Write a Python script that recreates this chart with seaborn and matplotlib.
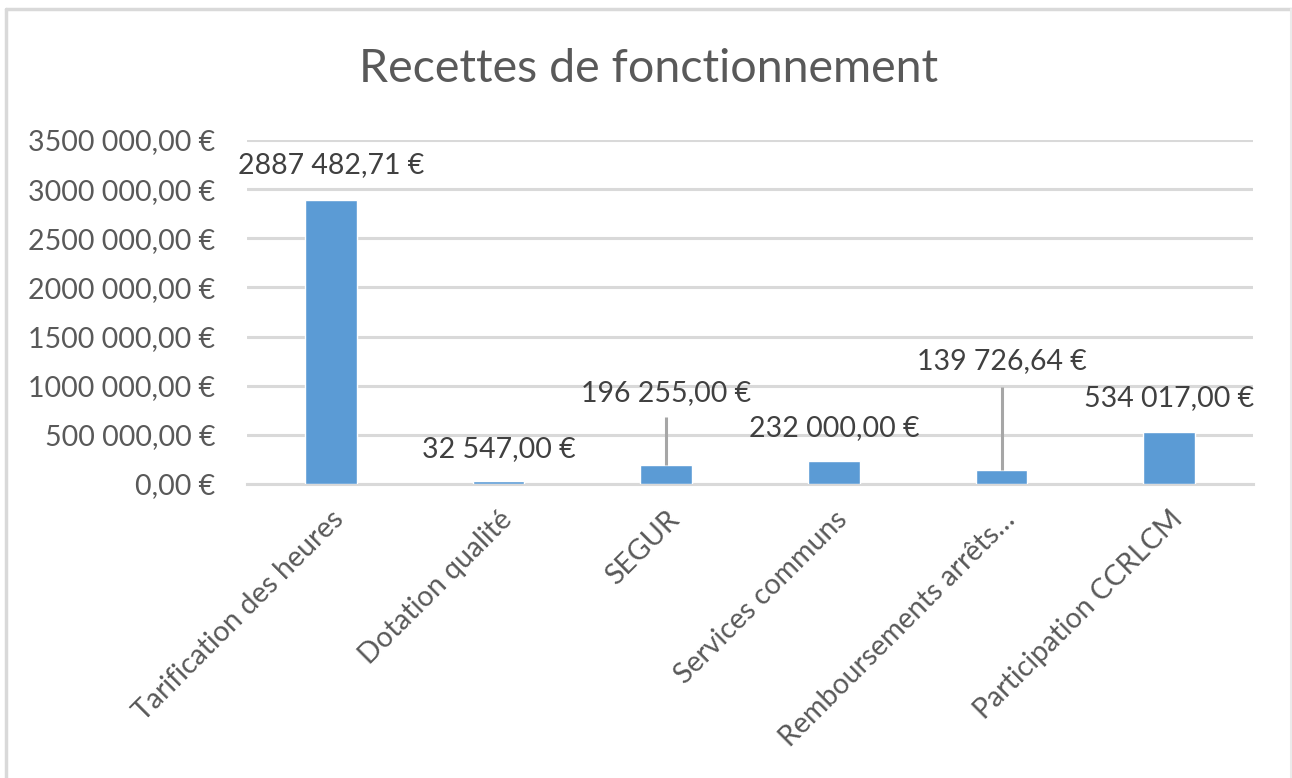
import matplotlib
matplotlib.use("Agg")
import matplotlib.pyplot as plt
from matplotlib.lines import Line2D
from matplotlib.ticker import FuncFormatter, MultipleLocator
import seaborn as sns
import pandas as pd

# Budget lines and amounts (EUR)
categories = [
    "Tarification des heures",
    "Dotation qualité",
    "SEGUR",
    "Services communs",
    "Remboursements arrêts…",
    "Participation CCRLCM",
]
amounts = [2887482.71, 32547.00, 196255.00, 232000.00, 139726.64, 534017.00]

# Vertical placement of each value label (EUR units) and leader-line flags
label_y = [3245000, 360000, 930000, 570000, 1250000, 875000]
leader = [False, False, True, False, True, False]
leader_top = [None, None, 680000, None, 985000, None]

BAR = "#5B9BD5"
TEXT = "#595959"
GRID = "#D9D9D9"
FS = 20.5


def euro(v):
    """Format like '3500 000,00 €' (single thousands separator)."""
    s = f"{v:.2f}"
    whole, dec = s.split(".")
    if len(whole) > 3:
        whole = whole[:-3] + " " + whole[-3:]
    return f"{whole},{dec} €"


sns.set_theme(style="white")
plt.rcParams["font.family"] = ["Lato", "DejaVu Sans"]

W, H = 1292, 778
fig = plt.figure(figsize=(W / 100, H / 100), dpi=100)
ax = fig.add_axes([247 / W, 1 - 484 / H, (1253 - 247) / W, (484 - 140) / H])

df = pd.DataFrame({"cat": categories, "amount": amounts})
sns.barplot(data=df, x="cat", y="amount", color=BAR, saturation=1,
            width=0.31, ax=ax, zorder=3)

ax.set_xlim(-0.5, len(categories) - 0.5)
ax.set_ylim(0, 3500000)
ax.yaxis.set_major_locator(MultipleLocator(500000))
ax.yaxis.set_major_formatter(FuncFormatter(lambda v, p: euro(v)))
ax.grid(axis="y", color=GRID, linewidth=2.2, zorder=0)
ax.set_axisbelow(True)
for side in ["left", "right", "top"]:
    ax.spines[side].set_visible(False)
ax.spines["bottom"].set_color(GRID)
ax.spines["bottom"].set_linewidth(2.2)
ax.set_xlabel("")
ax.set_ylabel("")
ax.tick_params(axis="y", length=0, pad=23, labelsize=FS, labelcolor=TEXT)
ax.tick_params(axis="x", length=0, pad=16, labelsize=FS, labelcolor=TEXT)
ax.set_xticks(range(len(categories)))
ax.set_xticklabels(categories, rotation=45, ha="right", va="top",
                   rotation_mode="anchor")

# Value labels, with leader lines where the label sits away from the bar
for i, (v, ly) in enumerate(zip(amounts, label_y)):
    ax.text(i, ly, euro(v), ha="center", va="center", fontsize=FS,
            color="#404040", zorder=5)
    if leader[i]:
        ax.plot([i, i], [v, leader_top[i]], color="#A6A6A6", lw=2.2,
                zorder=4, solid_capstyle="butt")

fig.text(649 / W, 1 - 69 / H, "Recettes de fonctionnement", ha="center",
         va="center", fontsize=33.5, color=TEXT)

# Chart frame
fig.add_artist(Line2D([6 / W, 1291 / W], [1 - 9 / H, 1 - 9 / H],
                      transform=fig.transFigure, color=GRID, lw=2.5))
fig.add_artist(Line2D([6 / W, 6 / W], [1 - 9 / H, 0], transform=fig.transFigure,
                      color=GRID, lw=2.5))
fig.add_artist(Line2D([1291 / W, 1291 / W], [1 - 9 / H, 0],
                      transform=fig.transFigure, color="#EBEBEB", lw=1.5))

fig.savefig("out.png", dpi=100, facecolor="white")
